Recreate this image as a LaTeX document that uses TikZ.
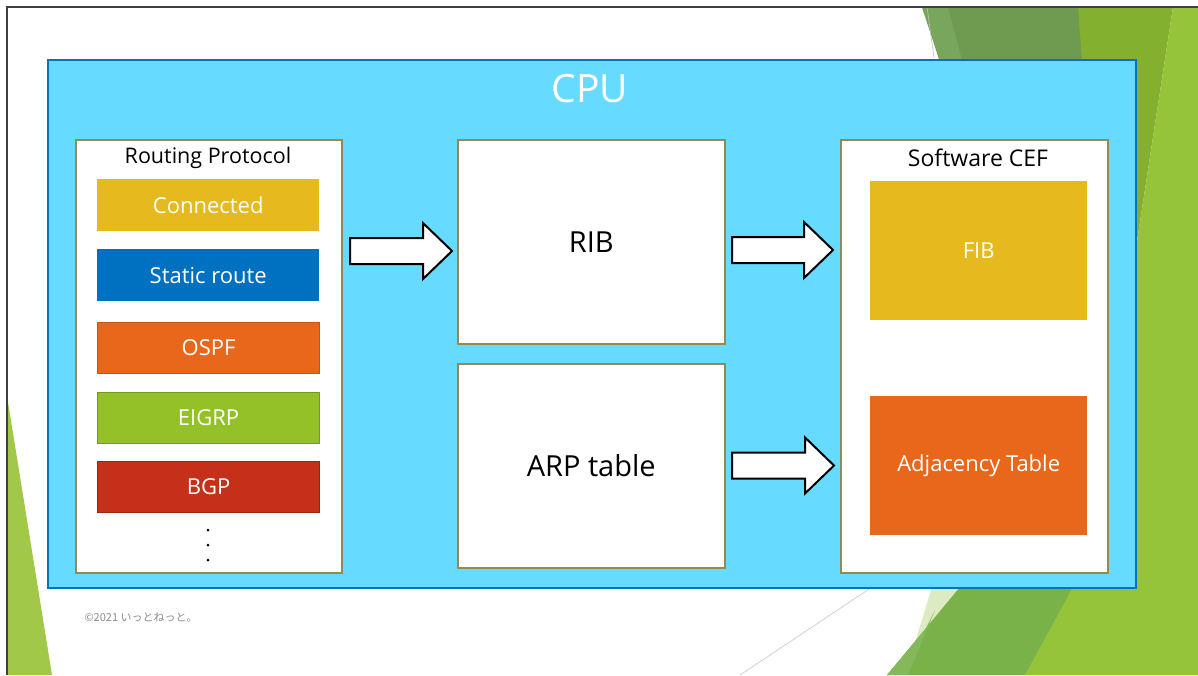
\documentclass[tikz,border=0pt]{standalone}
\usepackage{fontspec}
\setmainfont{Open Sans}
\newfontfamily\jpfont{Noto Sans CJK JP}
\usetikzlibrary{positioning}

\definecolor{cpufill}{HTML}{67DBFF}
\definecolor{cpuline}{HTML}{0A70C0}
\definecolor{panelline}{HTML}{938953}
\definecolor{goldfill}{HTML}{E6B91F}
\definecolor{bluefill}{HTML}{0070C0}
\definecolor{orangefill}{HTML}{E8671A}
\definecolor{orangeline}{HTML}{C0561A}
\definecolor{greenfill}{HTML}{93C127}
\definecolor{greenline}{HTML}{6F9A24}
\definecolor{redfill}{HTML}{C4301A}
\definecolor{redline}{HTML}{9C2512}
\definecolor{olive}{HTML}{6F9B50}
\definecolor{olivelight}{HTML}{78A65C}
\definecolor{leafdark}{HTML}{84B030}
\definecolor{leaf}{HTML}{95C33A}
\definecolor{leafmid}{HTML}{7AB24A}
\definecolor{leafstrip}{HTML}{84B85A}
\definecolor{leafpale}{HTML}{DDEBC3}
\definecolor{leafleft}{HTML}{A2C84A}
\definecolor{notegray}{HTML}{8C8C8C}

\newcommand\blockarrow[3]{%
  \draw[arrowshape] (#1,#3-13) -- (#2-29,#3-13) -- (#2-29,#3-28) -- (#2,#3)
    -- (#2-29,#3+28) -- (#2-29,#3+13) -- (#1,#3+13) -- cycle;}

\begin{document}
\begin{tikzpicture}[x=1pt,y=-1pt,
  panel/.style={draw=panelline,line width=1.5pt,fill=white,anchor=north west,inner sep=0pt},
  tile/.style={anchor=north west,inner sep=0pt},
  tilelabel/.style={text=white,font=\fontsize{22}{26}\selectfont},
  heading/.style={font=\fontsize{21.5}{26}\selectfont,text=black},
  bigtext/.style={font=\fontsize{29}{34}\selectfont,text=black},
  arrowshape/.style={draw=black,line width=2pt,fill=white,line join=miter},
  dot/.style={circle,fill=black,inner sep=0pt,minimum size=3pt}]
\useasboundingbox (0,0) rectangle (1198,675);

% slide background
\fill[white] (0,0) rectangle (1198,675);

% decorative facets, right side
\fill[olive] (922,7) -- (1100,7) -- (1100,400) -- (1050,400) -- cycle;
\fill[olivelight] (922,7) -- (948,7) -- (975,110) -- (957,110) -- cycle;
\draw[gray!50,line width=0.6pt] (927,7) -- (934,58);
\fill[leafdark] (1078,7) -- (1173,7) -- (1128,300) -- (1100,300) -- cycle;
\fill[leafpale] (932,587) -- (990,587) -- (905,675) -- cycle;
\fill[leafmid] (887,675) -- (1198,300) -- (1198,675) -- cycle;
\fill[leafstrip] (887,675) -- (908,675) -- (935,610) -- (925,630) -- cycle;
\fill[leaf] (1173,7) -- (1198,7) -- (1198,675) -- (1025,675) -- (1073,587)
  -- (1110,587) -- (1110,300) -- (1128,300) -- cycle;
\draw[gray!35,line width=0.8pt] (740,675) -- (872,587);

% decorative facet, left side
\fill[leafleft] (8,402) -- (52,675) -- (8,675) -- cycle;

% slide frame
\draw[black!75,line width=1.2pt] (7,675) -- (7,7) -- (1198,7);

% CPU area
\node[draw=cpuline,line width=2pt,fill=cpufill,anchor=north west,inner sep=0pt,
  minimum width=1088,minimum height=528] (cpu) at (47,59) {};
\node[text=white,font=\fontsize{39}{46}\selectfont] (cputitle) at (590,89) {CPU};

% routing protocols
\node[panel,minimum width=266,minimum height=433] (rp) at (75,139) {};
\node[heading] (rptitle) at (208,158) {Routing Protocol};
\node[tile,fill=goldfill,minimum width=222,minimum height=52] (conn) at (97,179) {};
\node[tilelabel] (connlabel) at (conn.center) {Connected};
\node[tile,fill=bluefill,minimum width=222,minimum height=52] (static) at (97,249) {};
\node[tilelabel] (staticlabel) at (static.center) {Static route};
\node[tile,fill=orangefill,draw=orangeline,line width=1.2pt,minimum width=222,minimum height=51] (ospf) at (97,322) {};
\node[tilelabel] (ospflabel) at (ospf.center) {OSPF};
\node[tile,fill=greenfill,draw=greenline,line width=1.2pt,minimum width=222,minimum height=51] (eigrp) at (97,392) {};
\node[tilelabel] (eigrplabel) at (eigrp.center) {EIGRP};
\node[tile,fill=redfill,draw=redline,line width=1.2pt,minimum width=222,minimum height=51] (bgp) at (97,461) {};
\node[tilelabel] (bgplabel) at (bgp.center) {BGP};
\node[dot] (d1) at (208,530) {};
\node[dot] (d2) at (208,545) {};
\node[dot] (d3) at (208,560) {};

% tables
\node[panel,minimum width=267,minimum height=204] (rib) at (457,139) {};
\node[bigtext] (riblabel) at (rib.center) {RIB};
\node[panel,minimum width=267,minimum height=204] (arp) at (457,363) {};
\node[bigtext] (arplabel) at (arp.center) {ARP table};

% software CEF
\node[panel,minimum width=267,minimum height=433] (cef) at (840,139) {};
\node[heading,font=\fontsize{23}{27}\selectfont] (ceftitle) at (978,158) {Software CEF};
\node[tile,fill=goldfill,minimum width=217,minimum height=139] (fib) at (870,181) {};
\node[tilelabel] (fiblabel) at (fib.center) {FIB};
\node[tile,fill=orangefill,minimum width=217,minimum height=139] (adj) at (870,396) {};
\node[tilelabel] (adjlabel) at (adj.center) {Adjacency Table};

% flow arrows
\blockarrow{350}{452}{251}
\blockarrow{732}{833}{250}
\blockarrow{732}{834}{465.5}

% footer
\node[anchor=west,text=notegray,font=\jpfont\fontsize{11}{13}\selectfont] (note) at (81,617) {©2021 いっとねっと。};
\end{tikzpicture}
\end{document}
